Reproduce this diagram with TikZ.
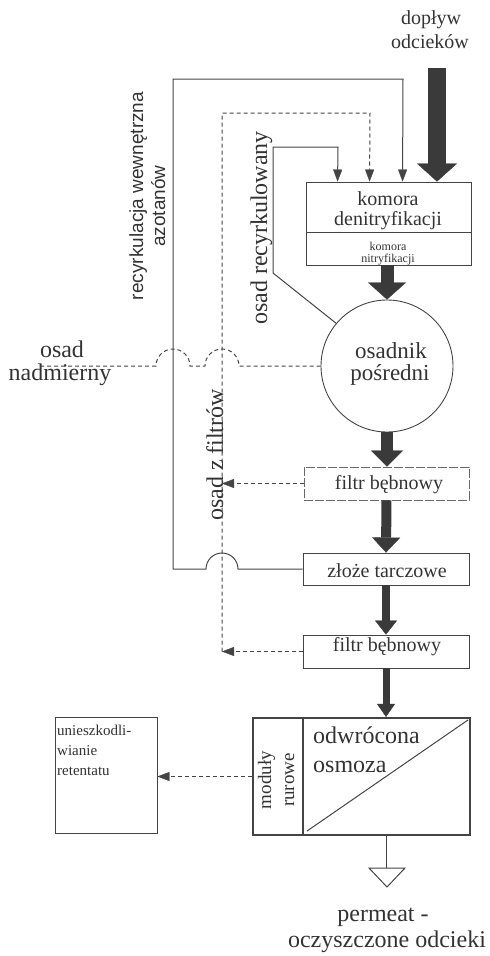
\documentclass[tikz,border=0pt]{standalone}
\usepackage{fontspec}
\setmainfont{Liberation Serif}
\newfontfamily\arialf{Liberation Sans}
\usetikzlibrary{arrows.meta,shapes.geometric}
\definecolor{ink}{HTML}{333333}
\definecolor{linec}{HTML}{444444}
\definecolor{flow}{HTML}{3a3a3a}
\begin{document}
\begin{tikzpicture}[x=1pt,y=-1pt,
  box/.style={draw=linec, line width=0.9pt, inner sep=0pt, rectangle, minimum width=#1},
  txt/.style={text=ink, inner sep=0pt, anchor=base},
  fs/.style={font=\fontsize{#1}{#1}\selectfont},
  solidln/.style={draw=linec, line width=1pt},
  dsh/.style={draw=linec, line width=1pt, dash pattern=on 4pt off 3pt},
  tipa/.style={-{Triangle[width=9pt,length=12pt,line width=0.3pt]}},
  big/.style n args={3}{draw=flow, line width=#1, -{Triangle[width=#2,length=#3,line width=0.3pt]}},
]
\useasboundingbox (0,0) rectangle (490,956);

% boxes
\node[box=165pt, minimum height=50pt] (denit) at (388.5,207) {};
\node[box=165pt, minimum height=33pt] (nitr) at (388.5,248.5) {};
\node[draw=linec, line width=0.9pt, circle, minimum size=132pt, inner sep=0pt] (osadnik) at (387,366) {};
\node[box=165pt, minimum height=33pt, dash pattern=on 9pt off 2pt, draw=linec!80] (filtrA) at (386.5,483.5) {};
\node[box=166pt, minimum height=32pt] (zloze) at (386,569) {};
\node[box=166pt, minimum height=33pt] (filtrB) at (386,651.5) {};
\node[box=50pt, minimum height=117pt, line width=2.2pt] (mod) at (278,776.5) {};
\node[box=167pt, minimum height=117pt, line width=2.2pt] (osm) at (386.5,776.5) {};
\node[box=102pt, minimum height=116pt, line width=0.8pt] (ret) at (106,775) {};
\draw[linec, line width=1pt] ([shift={(5pt,5pt)}]osm.south west) -- ([shift={(-3pt,-3pt)}]osm.north east);

% texts
\node[txt, fs=20] (t1) at (431,24) {dopływ};
\node[txt, fs=20] (t2) at (430,48) {odcieków};
\node[txt, rotate=90, font=\arialf\fontsize{19}{19}\selectfont] (t3) at (143,196) {recyrkulacja wewnętrzna};
\node[txt, rotate=90, font=\arialf\fontsize{19}{19}\selectfont] (t4) at (165,206) {azotanów};
\node[txt, rotate=90, fs=24] (t5) at (267,228) {osad recyrkulowany};
\node[txt, rotate=90, fs=24] (t6) at (223,455) {osad z filtrów};
\node[txt, fs=24] (t7) at (62,357) {osad};
\node[txt, fs=24] (t8) at (60,380) {nadmierny};
\node[txt, fs=20] (t9) at (388,205) {komora};
\node[txt, fs=20] (t10) at (388,225) {denitryfikacji};
\node[txt, fs=12] (t11) at (388,250) {komora};
\node[txt, fs=12] (t12) at (388,262) {nitryfikacji};
\node[txt, fs=23] (t13) at (391,358) {osadnik};
\node[txt, fs=23] (t14) at (390,380) {pośredni};
\node[txt, fs=20] (t15) at (389,489) {filtr bębnowy};
\node[txt, fs=20] (t16) at (387,577) {złoże tarczowe};
\node[txt, fs=20] (t17) at (387,651) {filtr bębnowy};
\node[txt, fs=24, anchor=base west] (t18) at (313,743) {odwrócona};
\node[txt, fs=24, anchor=base west] (t19) at (313,772) {osmoza};
\node[txt, rotate=90, fs=19] (t20) at (271,780) {moduły};
\node[txt, rotate=90, fs=19] (t21) at (294,780) {rurowe};
\node[txt, fs=15, anchor=base west] (t22) at (57,735) {unieszkodli-};
\node[txt, fs=15, anchor=base west] (t23) at (57,755) {wianie};
\node[txt, fs=15, anchor=base west] (t24) at (57,775) {retentatu};
\node[txt, fs=24] (t25) at (383,921) {permeat -};
\node[txt, fs=24] (t26) at (387,947) {oczyszczone odcieki};

% main flow
\coordinate (inflow) at (437,68);
\draw[big={18pt}{40pt}{18pt}] (inflow) -- (inflow |- denit.north);
\draw[big={13pt}{38pt}{17pt}] (osadnik.north |- nitr.south) -- (osadnik.north);
\draw[big={12pt}{32pt}{16pt}] (osadnik.south) -- (osadnik.south |- filtrA.north);
\draw[big={10pt}{28pt}{15pt}] (filtrA.south) -- (zloze.north);
\draw[big={8pt}{22pt}{14pt}] (zloze.south) -- (filtrB.north);
\draw[big={7pt}{18pt}{13pt}] (filtrB.south) -- (filtrB.south |- osm.north);

% internal nitrate recirculation
\draw[solidln, tipa] (zloze.west) -- (238,569)
  .. controls (238,560.2) and (230.8,553) .. (222,553)
  .. controls (213.2,553) and (206,560.2) .. (206,569)
  -- (173,569) -- (173,79) -- (403,79) -- ([xshift=97pt]denit.north west);

% sludge from filters
\coordinate (jA) at (222,483.5);
\coordinate (jB) at (222,651.5);
\draw[dsh, tipa] (filtrA.west) -- (jA);
\draw[dsh, tipa] (filtrB.west) -- (jB);
\draw[dsh, tipa] (jB) -- (222,113) -- (370,113) -- ([xshift=64pt]denit.north west);

% recirculated sludge
\draw[solidln, tipa] (osadnik.140) -- (273,273) -- (273,147) -- (338,147) -- ([xshift=32pt]denit.north west);

% excess sludge
\coordinate (exend) at (40,366);
\draw[dsh] (osadnik.west) -- (239,366)
  .. controls (239,356.6) and (231.4,349) .. (222,349)
  .. controls (212.6,349) and (205,356.6) .. (205,366)
  -- (190,366)
  .. controls (190,356.6) and (182.4,349) .. (173,349)
  .. controls (163.6,349) and (156,356.6) .. (156,366)
  -- (exend);

% retentate
\draw[dsh, tipa] (mod.west) -- (mod.west -| ret.east);

% permeate
\coordinate (tri) at (387,868);
\draw[solidln] (osm.south) -- (osm.south |- tri);
\draw[solidln, line join=miter] (tri) -- ++(-18,0) -- ++(18,19) -- ++(18,-19) -- cycle;
\end{tikzpicture}
\end{document}
